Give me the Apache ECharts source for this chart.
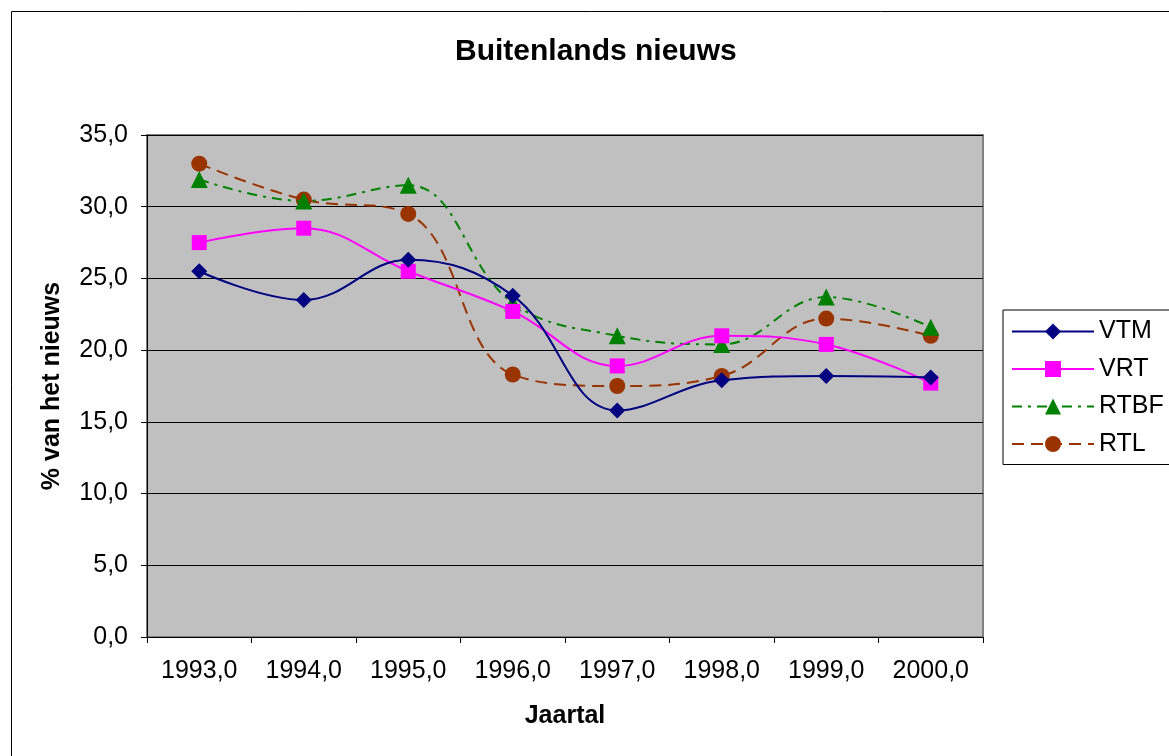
<!DOCTYPE html>
<html>
<head>
<meta charset="utf-8">
<script src="https://cdn.jsdelivr.net/npm/echarts@6/dist/echarts.min.js"></script>
<style>
  html, body { margin: 0; padding: 0; background: #fff; }
  #myChart { width: 1169px; height: 756px; }
</style>
</head>
<body>
<div id="myChart"></div>
<script>
// data
const years = ['1993,0', '1994,0', '1995,0', '1996,0', '1997,0', '1998,0', '1999,0', '2000,0'];
const vtm = [25.5, 23.5, 26.3, 23.8, 15.8, 17.9, 18.2, 18.1];
const vrt = [27.5, 28.5, 25.5, 22.7, 18.9, 21.0, 20.4, 17.7];
const rtbf = [31.9, 30.4, 31.5, 23.3, 21.0, 20.4, 23.7, 21.6];
const rtl = [33.0, 30.5, 29.5, 18.3, 17.5, 18.2, 22.2, 21.0];

const font = 'Liberation Sans, Arial, sans-serif';
const myChart = echarts.init(document.getElementById('myChart'));

myChart.setOption({
  animation: false,
  backgroundColor: '#fff',
  textStyle: { fontFamily: font },
  title: {
    text: 'Buitenlands nieuws',
    left: 450,
    top: 32,
    textStyle: { fontSize: 30, fontWeight: 'bold', color: '#000', fontFamily: font }
  },
  graphic: [{
    type: 'rect',
    left: 9,
    top: 9,
    shape: { width: 1300, height: 900 },
    style: { fill: null, stroke: '#000', lineWidth: 1 },
    silent: true,
    z: -1
  }],
  grid: {
    left: 147,
    top: 135,
    width: 836,
    height: 502,
    show: true,
    backgroundColor: '#C0C0C0',
    borderColor: '#808080',
    borderWidth: 2
  },
  legend: {
    orient: 'vertical',
    left: 1003,
    top: 310,
    padding: [9, 8, 8, 8],
    itemGap: 12.5,
    itemWidth: 82,
    itemHeight: 20,
    borderColor: '#000',
    borderWidth: 1,
    backgroundColor: '#fff',
    textStyle: { fontSize: 25, lineHeight: 25, color: '#000', fontFamily: font },
    data: ['VTM', 'VRT', 'RTBF', 'RTL']
  },
  xAxis: {
    type: 'category',
    data: years,
    boundaryGap: true,
    name: 'Jaartal',
    nameLocation: 'middle',
    nameGap: 67,
    nameTextStyle: { fontSize: 25, fontWeight: 'bold', color: '#000' },
    axisLine: { lineStyle: { color: '#000', width: 1 } },
    axisTick: { show: true, inside: false, length: 6, lineStyle: { color: '#000' } },
    axisLabel: { fontSize: 25, color: '#000', margin: 22 },
    splitLine: { show: false }
  },
  yAxis: {
    type: 'value',
    min: 0,
    max: 35,
    interval: 5,
    name: '% van het nieuws',
    nameLocation: 'middle',
    nameRotate: 90,
    nameGap: 82,
    nameTextStyle: { fontSize: 25, fontWeight: 'bold', color: '#000' },
    axisLine: { show: true, lineStyle: { color: '#000', width: 1 } },
    axisTick: { show: true, inside: false, length: 6, lineStyle: { color: '#000' } },
    axisLabel: {
      fontSize: 25,
      color: '#000',
      margin: 19,
      formatter: v => v.toFixed(1).replace('.', ',')
    },
    splitLine: { show: true, lineStyle: { color: '#000', width: 1 } }
  },
  series: [
    {
      name: 'VTM',
      type: 'line',
      data: vtm,
      smooth: 0.4,
      symbol: 'diamond',
      symbolSize: 16,
      itemStyle: { color: '#000080' },
      lineStyle: { color: '#000080', width: 2 },
      z: 4
    },
    {
      name: 'VRT',
      type: 'line',
      data: vrt,
      smooth: 0.4,
      symbol: 'rect',
      symbolSize: 15,
      itemStyle: { color: '#FF00FF' },
      lineStyle: { color: '#FF00FF', width: 2 },
      z: 3
    },
    {
      name: 'RTBF',
      type: 'line',
      data: rtbf,
      smooth: 0.4,
      symbol: 'triangle',
      symbolSize: 17,
      itemStyle: { color: '#008000' },
      lineStyle: { color: '#008000', width: 2, type: [10, 6, 3, 6] },
      z: 2
    },
    {
      name: 'RTL',
      type: 'line',
      data: rtl,
      smooth: 0.4,
      symbol: 'circle',
      symbolSize: 16,
      itemStyle: { color: '#993300' },
      lineStyle: { color: '#993300', width: 2, type: [12, 7] },
      z: 1
    }
  ]
});
</script>
</body>
</html>
